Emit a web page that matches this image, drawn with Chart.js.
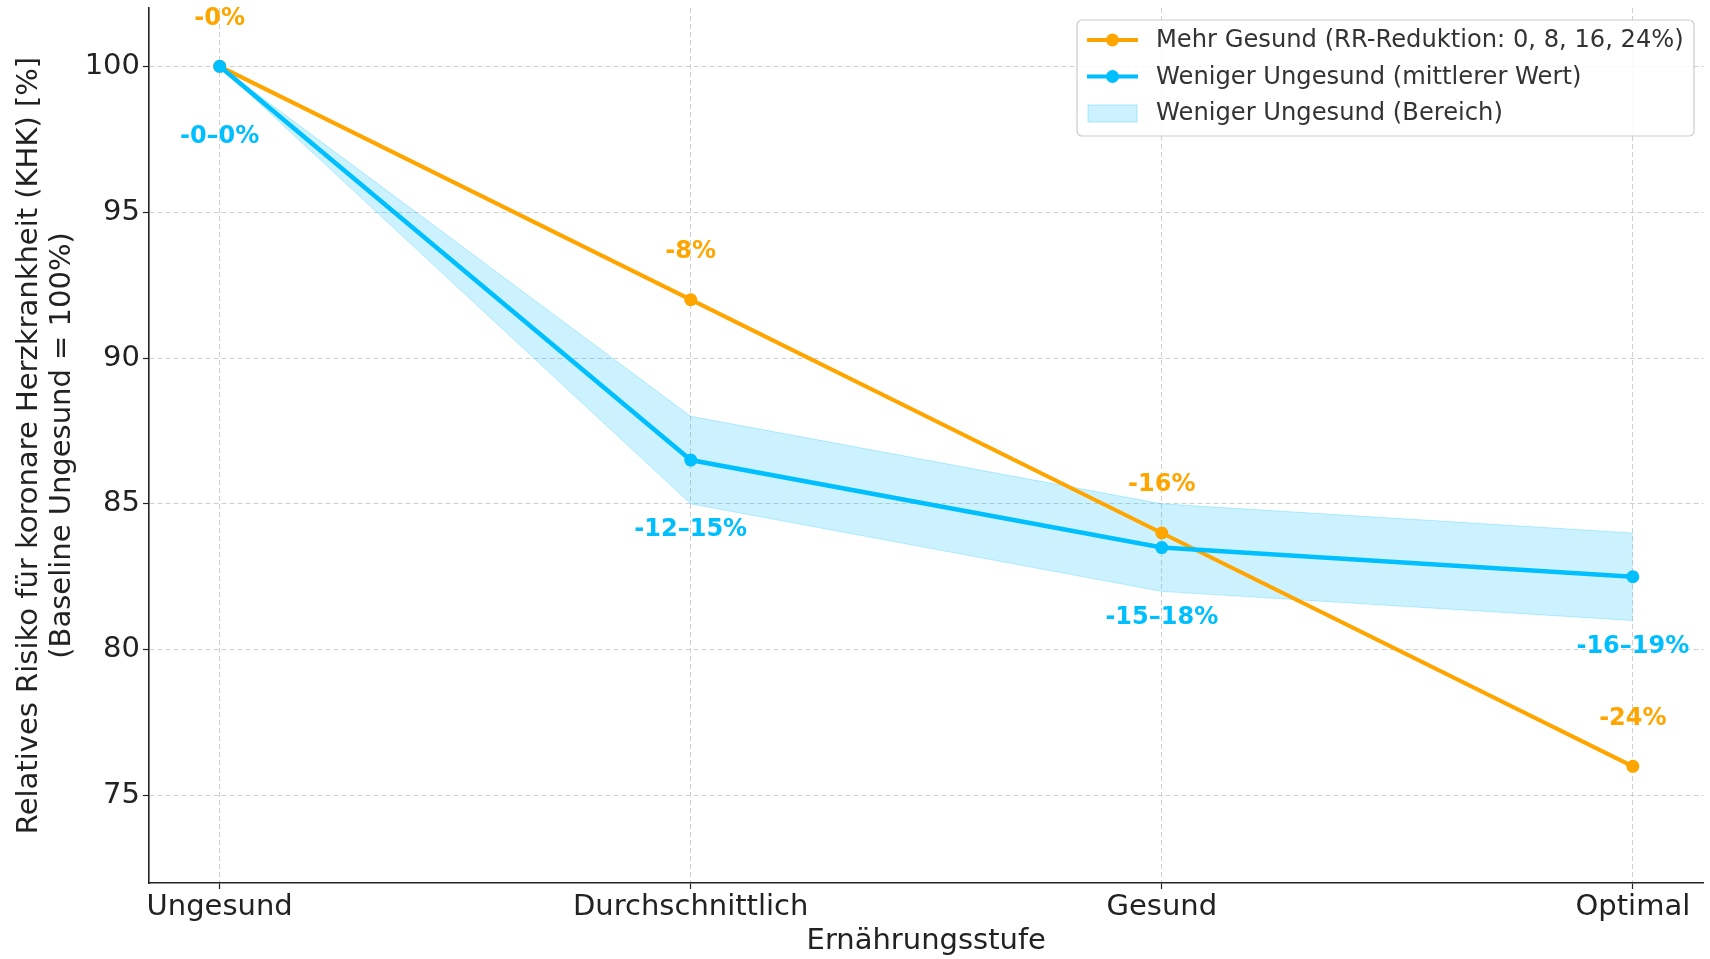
<!DOCTYPE html>
<html>
<head>
<meta charset="utf-8">
<script src="https://cdn.jsdelivr.net/npm/chart.js@4"></script>
<style>
  html, body { margin: 0; padding: 0; background: #fff; }
  #wrap { width: 1710px; height: 959px; }
</style>
</head>
<body>
<div id="wrap"><canvas id="myChart" width="1710" height="959"></canvas></div>
<script>
// Daten
const categories = ["Ungesund", "Durchschnittlich", "Gesund", "Optimal"];
const mehrGesund = [100, 92, 84, 76];
const wenigerMittel = [100, 86.5, 83.5, 82.5];
const wenigerUnten = [100, 85, 82, 81];
const wenigerOben = [100, 88, 85, 84];
const mehrGesundLabels = ["-0%", "-8%", "-16%", "-24%"];
const wenigerLabels = ["-0\u20130%", "-12\u201315%", "-15\u201318%", "-16\u201319%"];
const yTicks = [75, 80, 85, 90, 95, 100];

const seriesNames = [
  "Mehr Gesund (RR-Reduktion: 0, 8, 16, 24%)",
  "Weniger Ungesund (mittlerer Wert)",
  "Weniger Ungesund (Bereich)",
];

const ORANGE = "#FFA500";
const BLUE = "#00BFFF";
const BAND = "rgba(0, 191, 255, 0.2)";
const FONT = "'DejaVu Sans', sans-serif";

const toPoints = (values) => values.map((v, i) => ({ x: i, y: v }));

// Beschriftungen an den Punkten
const pointLabels = {
  id: "pointLabels",
  afterDatasetsDraw(chart) {
    const ctx = chart.ctx;
    ctx.save();
    ctx.font = "bold 24px " + FONT;
    ctx.textAlign = "center";
    ctx.textBaseline = "middle";
    chart.getDatasetMeta(2).data.forEach((pt, i) => {
      ctx.fillStyle = ORANGE;
      ctx.fillText(mehrGesundLabels[i], pt.x, pt.y - 48);
    });
    chart.getDatasetMeta(3).data.forEach((pt, i) => {
      ctx.fillStyle = BLUE;
      ctx.fillText(wenigerLabels[i], pt.x, pt.y + 70);
    });
    ctx.restore();
  },
};

// Legende oben rechts im Diagramm
const innerLegend = {
  id: "innerLegend",
  afterDraw(chart) {
    const ctx = chart.ctx;
    const x = 1077, y = 20, w = 617, h = 116;
    ctx.save();
    ctx.beginPath();
    ctx.roundRect(x, y, w, h, 5);
    ctx.fillStyle = "rgba(255,255,255,0.85)";
    ctx.fill();
    ctx.strokeStyle = "#cccccc";
    ctx.lineWidth = 1.2;
    ctx.stroke();

    const rows = [40, 76.5, 113];
    const colors = [ORANGE, BLUE];
    for (let i = 0; i < 2; i++) {
      ctx.strokeStyle = colors[i];
      ctx.lineWidth = 4;
      ctx.beginPath();
      ctx.moveTo(1087, rows[i]);
      ctx.lineTo(1138, rows[i]);
      ctx.stroke();
      ctx.fillStyle = colors[i];
      ctx.beginPath();
      ctx.arc(1112.5, rows[i], 6.5, 0, Math.PI * 2);
      ctx.fill();
    }
    ctx.fillStyle = BAND;
    ctx.fillRect(1088, rows[2] - 8, 49, 17);
    ctx.strokeStyle = "rgba(0,191,255,0.3)";
    ctx.lineWidth = 1;
    ctx.strokeRect(1088, rows[2] - 8, 49, 17);

    ctx.fillStyle = "#333";
    ctx.font = "24.2px " + FONT;
    ctx.textBaseline = "middle";
    ctx.textAlign = "left";
    seriesNames.forEach((name, i) => ctx.fillText(name, 1156, rows[i] + 1));
    ctx.restore();
  },
};

const ctx = document.getElementById("myChart");
new Chart(ctx, {
  type: "line",
  data: {
    datasets: [
      {
        label: seriesNames[2] + " unten",
        data: toPoints(wenigerUnten),
        borderColor: "rgba(0,191,255,0.25)",
        borderWidth: 1,
        pointRadius: 0,
        fill: false,
        order: 3,
      },
      {
        label: seriesNames[2],
        data: toPoints(wenigerOben),
        borderColor: "rgba(0,191,255,0.25)",
        borderWidth: 1,
        backgroundColor: BAND,
        pointRadius: 0,
        fill: "-1",
        order: 3,
      },
      {
        label: seriesNames[0],
        data: toPoints(mehrGesund),
        borderColor: ORANGE,
        backgroundColor: ORANGE,
        borderWidth: 4,
        pointRadius: 6.5,
        pointBorderWidth: 0,
        fill: false,
        order: 2,
      },
      {
        label: seriesNames[1],
        data: toPoints(wenigerMittel),
        borderColor: BLUE,
        backgroundColor: BLUE,
        borderWidth: 4.5,
        pointRadius: 6.5,
        pointBorderWidth: 0,
        fill: false,
        order: 1,
      },
    ],
  },
  options: {
    responsive: false,
    animation: false,
    devicePixelRatio: 1,
    layout: { padding: { top: 8, right: 4, left: 0, bottom: 0 } },
    plugins: {
      legend: { display: false },
      tooltip: { enabled: false },
    },
    scales: {
      x: {
        type: "linear",
        min: -0.15,
        max: 3.15,
        afterBuildTicks: (scale) => {
          scale.ticks = categories.map((c, i) => ({ value: i }));
        },
        afterFit: (scale) => {
          scale.height = 76;
          scale.paddingLeft = 0;
          scale.paddingRight = 0;
        },
        ticks: {
          callback: (value) => categories[value],
          font: { family: FONT, size: 29 },
          color: "#222",
          padding: 1,
          maxRotation: 0,
          autoSkip: false,
        },
        grid: {
          color: "#d0d0d0",
          lineWidth: 1,
          tickLength: 6,
          tickColor: "#222",
          tickWidth: 1.2,
          tickBorderDash: [],
        },
        border: { display: true, color: "#222", width: 1.6, dash: [5, 3] },
        title: {
          display: true,
          text: "Ern\u00e4hrungsstufe",
          font: { family: FONT, size: 29 },
          color: "#222",
          padding: { top: 0, bottom: 0 },
        },
      },
      y: {
        type: "linear",
        min: 72,
        max: 102,
        afterBuildTicks: (scale) => {
          scale.ticks = yTicks.map((v) => ({ value: v }));
        },
        afterFit: (scale) => {
          scale.width = 149;
          scale.paddingTop = 0;
          scale.paddingBottom = 0;
        },
        ticks: {
          font: { family: FONT, size: 29 },
          color: "#222",
          padding: 3,
        },
        grid: {
          color: "#d0d0d0",
          lineWidth: 1,
          tickLength: 6,
          tickColor: "#222",
          tickWidth: 1.2,
          tickBorderDash: [],
        },
        border: { display: true, color: "#222", width: 1.6, dash: [5, 3] },
        title: {
          display: true,
          text: [
            "Relatives Risiko f\u00fcr koronare Herzkrankheit (KHK) [%]",
            "(Baseline Ungesund = 100%)",
          ],
          font: { family: FONT, size: 29, lineHeight: 1.15 },
          color: "#222",
          padding: { top: 12.3, bottom: 0 },
        },
      },
    },
  },
  plugins: [pointLabels, innerLegend],
});
</script>
</body>
</html>
